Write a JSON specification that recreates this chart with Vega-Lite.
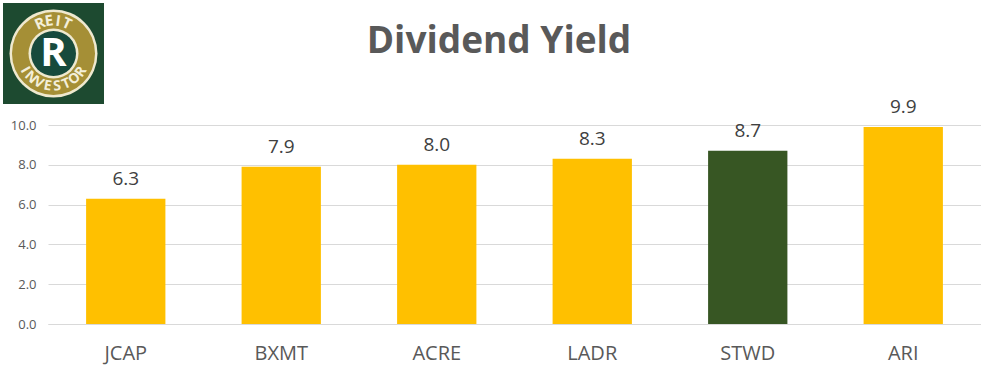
{
  "$schema": "https://vega.github.io/schema/vega-lite/v6.json",
  "background": "white",
  "padding": {"left": 3, "top": 3, "right": 0, "bottom": 12},
  "config": {"view": {"stroke": null}, "font": "Open Sans"},
  "spacing": -7,
  "vconcat": [
    {
      "hconcat": [
        {
          "width": 101,
          "height": 101,
          "view": {"fill": "#1d4a30", "stroke": null},
          "data": {"values": [{"brand": "REIT Investor"}]},
          "layer": [
            {"mark": {"type": "arc", "outerRadius": 44, "innerRadius": 0, "theta": 0, "theta2": 6.2832, "fill": "#efe9cf"}},
            {"mark": {"type": "arc", "outerRadius": 41.5, "innerRadius": 0, "theta": 0, "theta2": 6.2832, "fill": "#a58f36"}},
            {"mark": {"type": "arc", "outerRadius": 25, "innerRadius": 0, "theta": 0, "theta2": 6.2832, "fill": "#efe9cf"}},
            {"mark": {"type": "arc", "outerRadius": 22.5, "innerRadius": 0, "theta": 0, "theta2": 6.2832, "fill": "#174a3c"}},
            {"mark": {"type": "text", "text": "R", "fontSize": 40, "fontWeight": "bold", "fill": "white", "baseline": "alphabetic", "dy": 12}},
            {
              "data": {"values": [{"letter": "R", "i": 0}, {"letter": "E", "i": 1}, {"letter": "I", "i": 2}, {"letter": "T", "i": 3}]},
              "mark": {"type": "text", "radius": 33, "fontSize": 15, "fontWeight": "bold", "fill": "#f4efd9", "baseline": "middle"},
              "encoding": {
                "text": {"field": "letter"},
                "theta": {"field": "i", "type": "quantitative", "stack": null, "scale": {"domain": [0, 3], "range": [-0.42, 0.42]}},
                "angle": {"field": "i", "type": "quantitative", "scale": {"domain": [0, 3], "range": [-24, 24]}}
              }
            },
            {
              "data": {"values": [{"letter2": "I", "j": 0}, {"letter2": "N", "j": 1}, {"letter2": "V", "j": 2}, {"letter2": "E", "j": 3}, {"letter2": "S", "j": 4}, {"letter2": "T", "j": 5}, {"letter2": "O", "j": 6}, {"letter2": "R", "j": 7}]},
              "mark": {"type": "text", "radius": 33, "fontSize": 14, "fontWeight": "bold", "fill": "#f4efd9", "baseline": "middle"},
              "encoding": {
                "text": {"field": "letter2"},
                "theta": {"field": "j", "type": "quantitative", "stack": null, "scale": {"domain": [0, 7], "range": [4.19, 2.16]}},
                "angle": {"field": "j", "type": "quantitative", "scale": {"domain": [0, 7], "range": [60, -56]}}
              }
            }
          ],
          "resolve": {"scale": {"theta": "independent", "angle": "independent"}}
        },
        {
          "width": 790,
          "height": 100,
          "data": {"values": [{"title": "Dividend Yield"}]},
          "mark": {"type": "text", "fontSize": 37, "fontWeight": "bold", "fill": "#595959", "baseline": "alphabetic"},
          "encoding": {"text": {"field": "title"}}
        }
      ],
      "spacing": 0
    },
    {
      "hconcat": [
        {
          "width": 7,
          "height": 199,
          "data": {"values": [{"spacer": ""}]},
          "mark": {"type": "text"},
          "encoding": {"text": {"field": "spacer"}}
        },
        {
          "width": 933,
          "height": 199,
          "data": {"values": [
            {"ticker": "JCAP", "yield": 6.3},
            {"ticker": "BXMT", "yield": 7.9},
            {"ticker": "ACRE", "yield": 8.0},
            {"ticker": "LADR", "yield": 8.3},
            {"ticker": "STWD", "yield": 8.7},
            {"ticker": "ARI", "yield": 9.9}
          ]},
          "encoding": {
            "x": {
              "field": "ticker", "type": "nominal", "sort": null,
              "scale": {"paddingInner": 0.49, "paddingOuter": 0.245},
              "axis": {"title": null, "labelAngle": 0, "domain": true, "domainColor": "#d9d9d9", "ticks": false, "labelFontSize": 20, "labelColor": "#595959", "labelPadding": 19}
            },
            "y": {
              "field": "yield", "type": "quantitative",
              "scale": {"domain": [0, 10]},
              "axis": {"title": null, "values": [0, 2, 4, 6, 8, 10], "format": ".1f", "grid": true, "gridColor": "#d9d9d9", "domain": false, "ticks": false, "labelFontSize": 13, "labelColor": "#595959", "labelPadding": 12}
            }
          },
          "layer": [
            {
              "mark": {"type": "bar"},
              "encoding": {
                "color": {"condition": {"test": "datum.ticker === 'STWD'", "value": "#375623"}, "value": "#FFC000"}
              }
            },
            {
              "mark": {"type": "text", "dy": -14, "baseline": "alphabetic", "fontSize": 19, "fill": "#404040"},
              "encoding": {"text": {"field": "yield", "type": "quantitative", "format": ".1f"}}
            }
          ]
        }
      ],
      "spacing": 0
    }
  ]
}
